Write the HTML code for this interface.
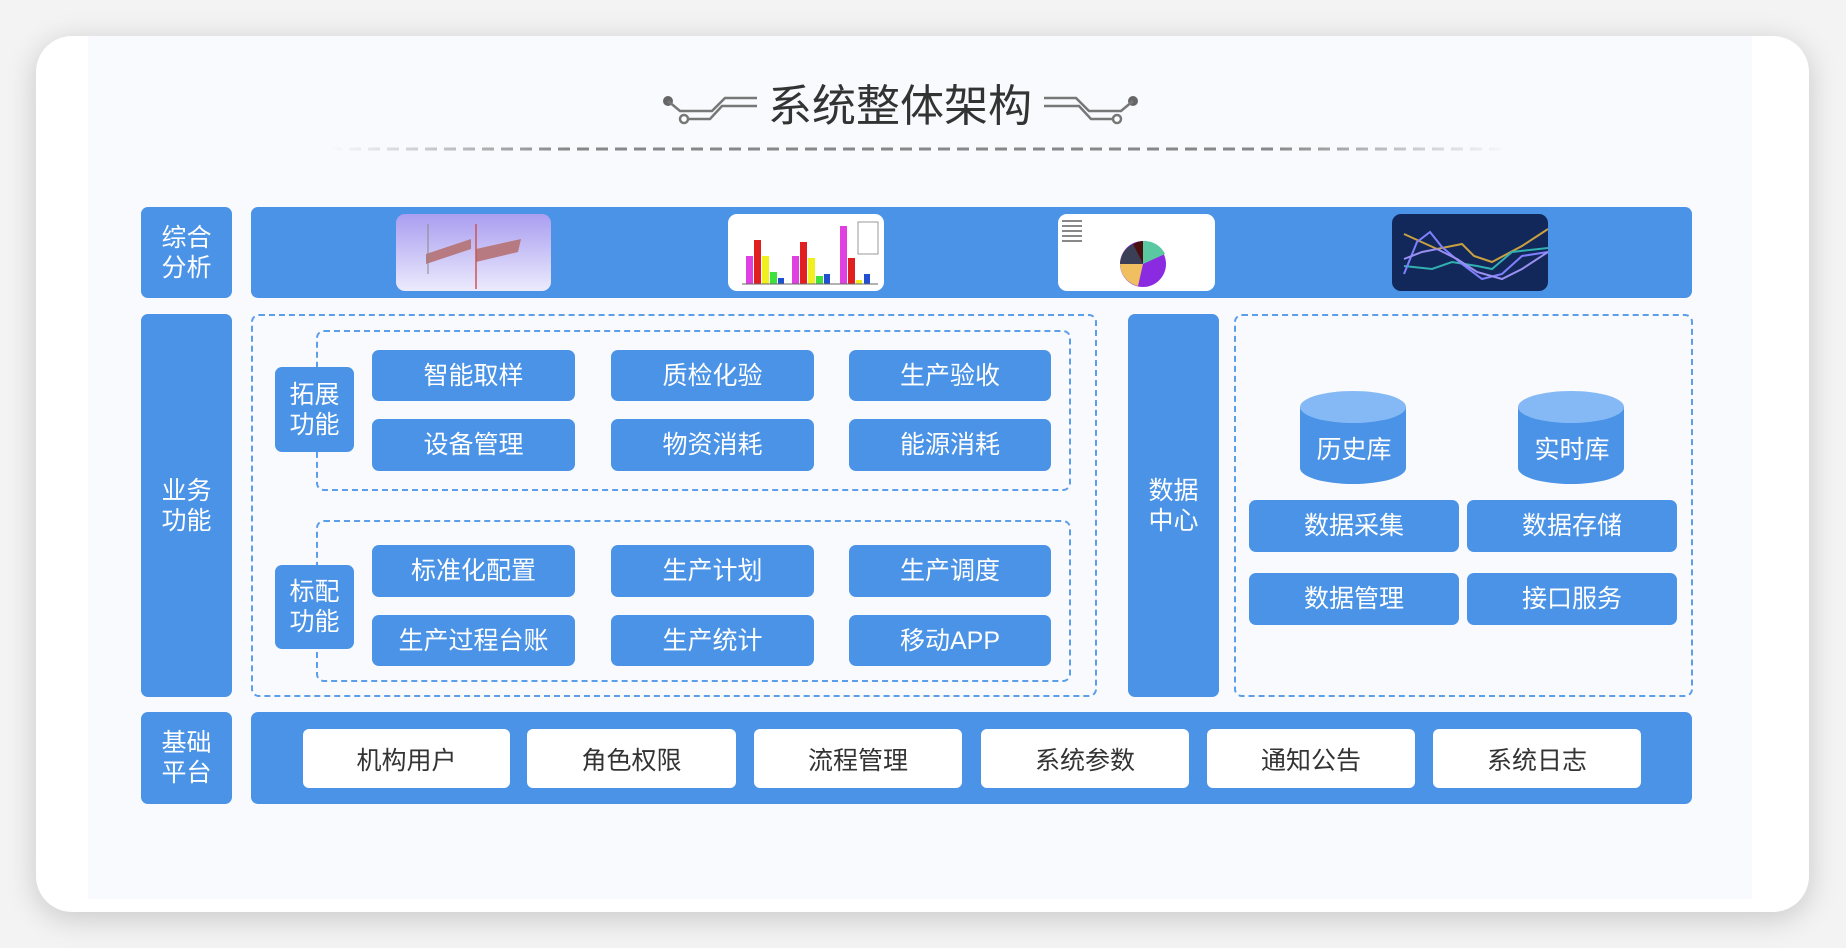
<!DOCTYPE html>
<html><head><meta charset="utf-8"><style>
html,body{margin:0;padding:0}
body{width:1846px;height:948px;position:relative;overflow:hidden;background:#f3f3f3;font-family:"Liberation Sans","Noto Sans CJK SC",sans-serif}
.a{position:absolute;box-sizing:border-box}
.card{left:36px;top:36px;width:1773px;height:876px;background:#fff;border-radius:36px;box-shadow:0 6px 30px rgba(0,0,0,.18)}
.panel{left:88px;top:36px;width:1664px;height:863px;background:#f9fafd}
.b{background:#4b93e6;color:#fff;border-radius:7px;display:flex;align-items:center;justify-content:center;text-align:center;font-size:25px;line-height:30px}
.w{background:#fff;color:#333;border-radius:6px;display:flex;align-items:center;justify-content:center;font-size:25px}
.d{border:2px dashed #5c9ee8;border-radius:8px}
.img{border-radius:9px;overflow:hidden}
</style></head><body>
<div class="a card"></div>
<div class="a panel"></div>

<!-- title -->
<svg class="a" style="left:640px;top:80px" width="540" height="50" viewBox="640 80 540 50">
 <g stroke="#777" stroke-width="2.5" fill="none">
  <circle cx="668" cy="101" r="5" fill="#666" stroke="none"/>
  <path d="M668 101 L680 111 L712 111 L725 98 L757 98"/>
  <path d="M688 119 L710 119 L722 106 L757 106"/>
  <circle cx="684" cy="119" r="4" fill="#fff"/>
  <circle cx="1133" cy="101" r="5" fill="#666" stroke="none"/>
  <path d="M1133 101 L1121 111 L1089 111 L1076 98 L1044 98"/>
  <path d="M1113 119 L1091 119 L1079 106 L1044 106"/>
  <circle cx="1117" cy="119" r="4" fill="#fff"/>
 </g>
</svg>
<div class="a" style="left:760px;top:80px;width:280px;height:54px;text-align:center;font-size:44px;line-height:54px;color:#333">系统整体架构</div>
<svg class="a" style="left:330px;top:146px" width="1180" height="6">
 <defs><linearGradient id="g" gradientUnits="userSpaceOnUse" x1="0" y1="0" x2="1180" y2="0"><stop offset="0" stop-color="#888" stop-opacity="0"/><stop offset=".2" stop-color="#888"/><stop offset=".8" stop-color="#888"/><stop offset="1" stop-color="#888" stop-opacity="0"/></linearGradient></defs>
 <rect x="0" y="1.5" width="1180" height="3" fill="url(#g)" style="mask:none"/>
</svg>
<svg class="a" style="left:330px;top:146px" width="1180" height="6">
 <g fill="#f9fafd"><rect x="12" y="0" width="7" height="6"/></g>
 <line x1="0" y1="3" x2="1180" y2="3" stroke="#f9fafd" stroke-width="4" stroke-dasharray="0 12 7 0"/>
</svg>

<!-- row 1 -->
<div class="a b" style="left:141px;top:207px;width:91px;height:91px">综合<br>分析</div>
<div class="a b" style="left:251px;top:207px;width:1441px;height:91px"></div>
<div class="a img" style="left:396px;top:214px;width:155px;height:77px;background:linear-gradient(#a99ef0,#eceafd)">
 <svg width="155" height="77"><path d="M30 40 L75 25 L75 35 L30 50Z M80 35 L125 25 L122 38 L80 48Z" fill="#b77a80"/><line x1="80" y1="10" x2="80" y2="75" stroke="#c55" stroke-width="1.5"/><line x1="32" y1="10" x2="32" y2="60" stroke="#888"/></svg>
</div>
<div class="a img" style="left:728px;top:214px;width:156px;height:77px;background:#fff">
 <svg width="156" height="77"><g><rect x="18" y="42" width="7" height="28" fill="#e040e0"/><rect x="26" y="26" width="7" height="44" fill="#e02020"/><rect x="34" y="42" width="7" height="28" fill="#f0f020"/><rect x="42" y="58" width="7" height="12" fill="#40e040"/><rect x="50" y="64" width="6" height="6" fill="#2050d0"/>
 <rect x="64" y="42" width="7" height="28" fill="#e040e0"/><rect x="72" y="28" width="7" height="42" fill="#e02020"/><rect x="80" y="44" width="7" height="26" fill="#f0f020"/><rect x="88" y="62" width="7" height="8" fill="#40e040"/><rect x="96" y="60" width="6" height="10" fill="#2050d0"/>
 <rect x="112" y="12" width="7" height="58" fill="#e040e0"/><rect x="120" y="44" width="7" height="26" fill="#e02020"/><rect x="128" y="66" width="6" height="4" fill="#f0f020"/><rect x="136" y="60" width="6" height="10" fill="#2050d0"/></g>
 <line x1="14" y1="70" x2="150" y2="70" stroke="#666"/><rect x="130" y="8" width="20" height="32" fill="none" stroke="#999"/></svg>
</div>
<div class="a img" style="left:1058px;top:214px;width:157px;height:77px;background:#fff">
 <svg width="157" height="77"><circle cx="85" cy="50" r="23" fill="#8a2be2"/><path d="M85 50 L62 50 A23 23 0 0 0 80 72Z" fill="#f0c060"/><path d="M85 50 L62 50 A23 23 0 0 1 75 30Z" fill="#3a3f55"/><path d="M85 50 L75 30 A23 23 0 0 1 85 27Z" fill="#4a1010"/><path d="M85 50 L85 27 A23 23 0 0 1 107 40Z" fill="#5ac8a0"/><g fill="#888"><rect x="4" y="6" width="20" height="2"/><rect x="4" y="11" width="20" height="2"/><rect x="4" y="16" width="20" height="2"/><rect x="4" y="21" width="20" height="2"/><rect x="4" y="26" width="20" height="2"/></g></svg>
</div>
<div class="a img" style="left:1392px;top:214px;width:156px;height:77px;background:#13285a">
 <svg width="156" height="77" fill="none" stroke-width="2"><polyline points="12,20 45,35 70,30 82,42 100,48 130,32 156,15" stroke="#c9a040"/><polyline points="12,52 40,55 60,48 85,52 100,55 120,38 156,34" stroke="#30b0b0"/><polyline points="12,60 25,28 38,18 50,33 70,50 90,65 110,60 130,42 156,38" stroke="#8080ff"/><polyline points="12,45 30,38 45,35 65,45 85,58 110,65 130,55 156,38" stroke="#9a90f0"/></svg>
</div>

<!-- row 2 -->
<div class="a b" style="left:141px;top:314px;width:91px;height:383px">业务<br>功能</div>
<div class="a d" style="left:251px;top:314px;width:846px;height:383px"></div>
<div class="a d" style="left:316px;top:330px;width:755px;height:161px"></div>
<div class="a d" style="left:316px;top:520px;width:755px;height:162px"></div>
<div class="a b" style="left:275px;top:367px;width:79px;height:85px">拓展<br>功能</div>
<div class="a b" style="left:275px;top:565px;width:79px;height:84px">标配<br>功能</div>

<div class="a b" style="left:372px;top:350px;width:203px;height:51px">智能取样</div>
<div class="a b" style="left:611px;top:350px;width:203px;height:51px">质检化验</div>
<div class="a b" style="left:849px;top:350px;width:202px;height:51px">生产验收</div>
<div class="a b" style="left:372px;top:419px;width:203px;height:52px">设备管理</div>
<div class="a b" style="left:611px;top:419px;width:203px;height:52px">物资消耗</div>
<div class="a b" style="left:849px;top:419px;width:202px;height:52px">能源消耗</div>
<div class="a b" style="left:372px;top:545px;width:203px;height:52px">标准化配置</div>
<div class="a b" style="left:611px;top:545px;width:203px;height:52px">生产计划</div>
<div class="a b" style="left:849px;top:545px;width:202px;height:52px">生产调度</div>
<div class="a b" style="left:372px;top:615px;width:203px;height:51px">生产过程台账</div>
<div class="a b" style="left:611px;top:615px;width:203px;height:51px">生产统计</div>
<div class="a b" style="left:849px;top:615px;width:202px;height:51px">移动APP</div>

<div class="a b" style="left:1128px;top:314px;width:91px;height:383px">数据<br>中心</div>
<div class="a d" style="left:1234px;top:314px;width:459px;height:383px"></div>

<svg class="a" style="left:1298px;top:390px" width="332" height="98">
 <g><path d="M2 17 L2 78 A53 16 0 0 0 108 78 L108 17Z" fill="#4b93e6"/><ellipse cx="55" cy="17" rx="53" ry="16" fill="#85b9f5"/></g>
 <g transform="translate(218,0)"><path d="M2 17 L2 78 A53 16 0 0 0 108 78 L108 17Z" fill="#4b93e6"/><ellipse cx="55" cy="17" rx="53" ry="16" fill="#85b9f5"/></g>
</svg>
<div class="a" style="left:1300px;top:434px;width:108px;height:32px;color:#fff;font-size:25px;text-align:center;line-height:32px">历史库</div>
<div class="a" style="left:1518px;top:434px;width:108px;height:32px;color:#fff;font-size:25px;text-align:center;line-height:32px">实时库</div>

<div class="a b" style="left:1249px;top:500px;width:210px;height:52px">数据采集</div>
<div class="a b" style="left:1467px;top:500px;width:210px;height:52px">数据存储</div>
<div class="a b" style="left:1249px;top:573px;width:210px;height:52px">数据管理</div>
<div class="a b" style="left:1467px;top:573px;width:210px;height:52px">接口服务</div>

<!-- row 3 -->
<div class="a b" style="left:141px;top:712px;width:91px;height:92px">基础<br>平台</div>
<div class="a b" style="left:251px;top:712px;width:1441px;height:92px"></div>
<div class="a w" style="left:303px;top:729px;width:207px;height:59px">机构用户</div>
<div class="a w" style="left:527px;top:729px;width:209px;height:59px">角色权限</div>
<div class="a w" style="left:754px;top:729px;width:208px;height:59px">流程管理</div>
<div class="a w" style="left:981px;top:729px;width:208px;height:59px">系统参数</div>
<div class="a w" style="left:1207px;top:729px;width:208px;height:59px">通知公告</div>
<div class="a w" style="left:1433px;top:729px;width:208px;height:59px">系统日志</div>
</body></html>
